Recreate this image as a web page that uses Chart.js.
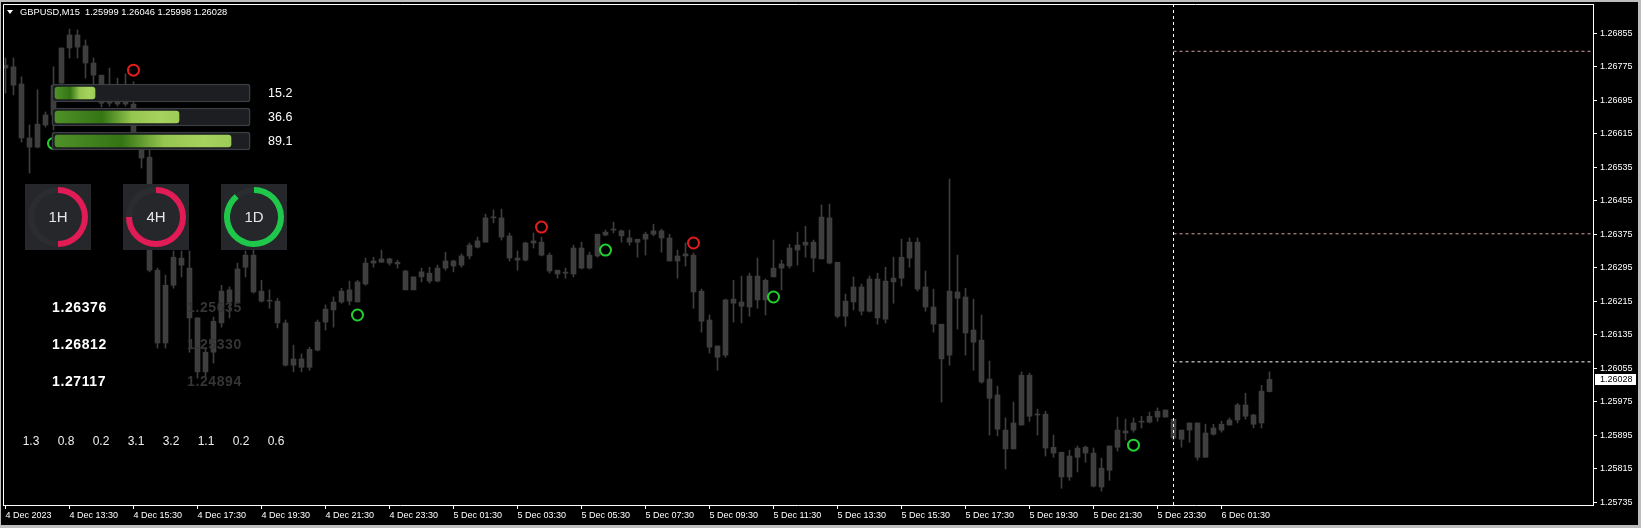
<!DOCTYPE html>
<html>
<head>
<meta charset="utf-8">
<title>GBPUSD,M15</title>
<script src="https://cdn.jsdelivr.net/npm/chart.js@4.4.0/dist/chart.umd.min.js"></script>
<style>
  html, body { margin: 0; padding: 0; background: #000; }
  #wrap { position: relative; width: 1641px; height: 528px; overflow: hidden; background: #000; }
  #main { position: absolute; left: 0; top: 0; }
  .txt { position: absolute; transform: translateY(-50%); white-space: nowrap; line-height: 1;
         font-family: "Liberation Sans", Arial, sans-serif; }
  .head { left: 20px; top: 12.5px; font-size: 9.3px; color: #fff; }
  .tri { position: absolute; left: 7px; top: 10px; width: 0; height: 0;
         border-left: 3.5px solid transparent; border-right: 3.5px solid transparent; border-top: 4px solid #fff; }
  .meterVal { left: 268px; font-size: 12.5px; color: #fff; }
  .gauge { position: absolute; width: 66px; height: 66px; background: #25272b; }
  .gauge canvas { position: absolute; left: 0; top: 0; }
  .gauge span { position: absolute; left: 0; top: 0; width: 66px; height: 66px; line-height: 66px; text-align: center;
                font-family: "Liberation Sans", Arial, sans-serif; font-size: 15px; color: #e6e6e6; }
  .lvl { left: 52px; font-size: 14px; font-weight: bold; color: #fff; letter-spacing: 0.6px; }
  .ghost { left: 187px; font-size: 14px; font-weight: bold; color: #353535; letter-spacing: 0.6px; }
  .small { font-size: 12px; color: #ededed; transform: translate(-50%, -50%); }
  #meter { position: absolute; left: 51px; top: 81px; }
</style>
</head>
<body>
<div id="wrap">
  <canvas id="main" width="1641" height="528"></canvas>
  <canvas id="meter" width="200" height="72"></canvas>
  <div class="tri"></div>
  <div class="txt head">GBPUSD,M15&nbsp; 1.25999 1.26046 1.25998 1.26028</div>
</div>
<script>
// --- price data (M15 bars, 4 Dec 11:30 -> 6 Dec 03:00) ---
const opens = [
  1.26779, 1.26775, 1.26734, 1.26605, 1.26583, 1.26636, 1.26660, 1.26736, 1.26820, 1.26851,
  1.26825, 1.26784, 1.26755, 1.26688, 1.26700, 1.26686, 1.26686, 1.26605, 1.26559, 1.26289,
  1.26115, 1.26253, 1.26318, 1.26294, 1.26175, 1.26046, 1.26093, 1.26163, 1.26242, 1.26213,
  1.26296, 1.26325, 1.26239, 1.26215, 1.26215, 1.26163, 1.26062, 1.26077, 1.26057, 1.26098,
  1.26165, 1.26194, 1.26213, 1.26242, 1.26213, 1.26256, 1.26306, 1.26308, 1.26316, 1.26308,
  1.26287, 1.26242, 1.26273, 1.26282, 1.26263, 1.26294, 1.26311, 1.26301, 1.26323, 1.26344,
  1.26356, 1.26414, 1.26414, 1.26371, 1.26318, 1.26313, 1.26354, 1.26356, 1.26325, 1.26289,
  1.26282, 1.26280, 1.26342, 1.26294, 1.26323, 1.26373, 1.26385, 1.26383, 1.26366, 1.26356,
  1.26363, 1.26375, 1.26383, 1.26366, 1.26311, 1.26323, 1.26325, 1.26239, 1.26170, 1.26108,
  1.26086, 1.26220, 1.26213, 1.26201, 1.26275, 1.26218, 1.26273, 1.26294, 1.26299, 1.26337,
  1.26349, 1.26356, 1.26316, 1.26414, 1.26308, 1.26179, 1.26213, 1.26249, 1.26191, 1.26268,
  1.26172, 1.26261, 1.26270, 1.26318, 1.26356, 1.26249, 1.26201, 1.26160, 1.26086, 1.26237,
  1.26225, 1.26146, 1.26122, 1.26029, 1.25991, 1.25907, 1.25862, 1.25919, 1.26038, 1.25943,
  1.25945, 1.25866, 1.25854, 1.25795, 1.25842, 1.25852, 1.25852, 1.25771, 1.25811, 1.25866,
  1.25905, 1.25907, 1.25926, 1.25926, 1.25938, 1.25938, 1.25933, 1.25885, 1.25907, 1.25924,
  1.25842, 1.25897, 1.25907, 1.25919, 1.25931, 1.25967, 1.25943, 1.25924, 1.25999
];
const highs = [
  1.26796, 1.26796, 1.26751, 1.26636, 1.26720, 1.26667, 1.26775, 1.26820, 1.26865, 1.26863,
  1.26839, 1.26796, 1.26755, 1.26772, 1.26748, 1.26758, 1.26739, 1.26617, 1.26576, 1.26294,
  1.26277, 1.26335, 1.26335, 1.26335, 1.26175, 1.26103, 1.26177, 1.26253, 1.26249, 1.26306,
  1.26335, 1.26337, 1.26265, 1.26242, 1.26222, 1.26170, 1.26110, 1.26089, 1.26105, 1.26170,
  1.26206, 1.26225, 1.26246, 1.26263, 1.26265, 1.26318, 1.26320, 1.26337, 1.26318, 1.26313,
  1.26289, 1.26273, 1.26294, 1.26296, 1.26301, 1.26332, 1.26313, 1.26328, 1.26354, 1.26368,
  1.26423, 1.26433, 1.26435, 1.26378, 1.26335, 1.26356, 1.26378, 1.26368, 1.26330, 1.26289,
  1.26294, 1.26349, 1.26356, 1.26332, 1.26375, 1.26385, 1.26404, 1.26385, 1.26385, 1.26363,
  1.26380, 1.26399, 1.26387, 1.26375, 1.26337, 1.26354, 1.26330, 1.26244, 1.26182, 1.26108,
  1.26220, 1.26265, 1.26275, 1.26282, 1.26318, 1.26268, 1.26361, 1.26313, 1.26351, 1.26380,
  1.26394, 1.26361, 1.26445, 1.26447, 1.26308, 1.26232, 1.26273, 1.26256, 1.26275, 1.26282,
  1.26296, 1.26320, 1.26363, 1.26366, 1.26366, 1.26287, 1.26244, 1.26160, 1.26507, 1.26325,
  1.26246, 1.26220, 1.26182, 1.26072, 1.26012, 1.25936, 1.25974, 1.26046, 1.26043, 1.25957,
  1.25952, 1.25895, 1.25854, 1.25859, 1.25869, 1.25869, 1.25864, 1.25840, 1.25869, 1.25938,
  1.25933, 1.25936, 1.25940, 1.25950, 1.25960, 1.25955, 1.25933, 1.25907, 1.25924, 1.25924,
  1.25921, 1.25921, 1.25928, 1.25936, 1.25971, 1.25995, 1.25945, 1.26014, 1.26046
];
const lows = [
  1.26712, 1.26708, 1.26595, 1.26521, 1.26581, 1.26631, 1.26624, 1.26729, 1.26796, 1.26796,
  1.26748, 1.26731, 1.26679, 1.26681, 1.26681, 1.26681, 1.26600, 1.26533, 1.26285, 1.26103,
  1.26103, 1.26246, 1.26273, 1.26093, 1.26031, 1.26034, 1.26067, 1.26153, 1.26175, 1.26210,
  1.26273, 1.26234, 1.26213, 1.26198, 1.26151, 1.26060, 1.26046, 1.26046, 1.26050, 1.26096,
  1.26146, 1.26153, 1.26210, 1.26206, 1.26213, 1.26253, 1.26296, 1.26308, 1.26301, 1.26294,
  1.26242, 1.26242, 1.26261, 1.26258, 1.26261, 1.26289, 1.26285, 1.26296, 1.26316, 1.26342,
  1.26356, 1.26402, 1.26361, 1.26311, 1.26289, 1.26311, 1.26342, 1.26323, 1.26282, 1.26270,
  1.26270, 1.26273, 1.26292, 1.26292, 1.26320, 1.26371, 1.26378, 1.26356, 1.26349, 1.26320,
  1.26325, 1.26371, 1.26332, 1.26311, 1.26270, 1.26299, 1.26198, 1.26141, 1.26091, 1.26050,
  1.26081, 1.26165, 1.26163, 1.26179, 1.26198, 1.26182, 1.26273, 1.26242, 1.26294, 1.26301,
  1.26320, 1.26285, 1.26316, 1.26304, 1.26175, 1.26155, 1.26194, 1.26182, 1.26189, 1.26160,
  1.26163, 1.26210, 1.26251, 1.26296, 1.26239, 1.26191, 1.26141, 1.25974, 1.26062, 1.26148,
  1.26086, 1.26050, 1.26019, 1.25895, 1.25893, 1.25814, 1.25862, 1.25919, 1.25928, 1.25895,
  1.25845, 1.25842, 1.25768, 1.25787, 1.25807, 1.25830, 1.25771, 1.25761, 1.25787, 1.25857,
  1.25883, 1.25902, 1.25912, 1.25924, 1.25928, 1.25938, 1.25883, 1.25866, 1.25878, 1.25835,
  1.25842, 1.25895, 1.25902, 1.25919, 1.25924, 1.25933, 1.25912, 1.25912, 1.25998
];
const closes = [
  1.26772, 1.26731, 1.26605, 1.26583, 1.26638, 1.26660, 1.26731, 1.26820, 1.26851, 1.26822,
  1.26784, 1.26755, 1.26688, 1.26715, 1.26686, 1.26696, 1.26619, 1.26557, 1.26289, 1.26115,
  1.26253, 1.26320, 1.26301, 1.26175, 1.26046, 1.26093, 1.26167, 1.26239, 1.26213, 1.26292,
  1.26325, 1.26237, 1.26215, 1.26215, 1.26163, 1.26062, 1.26077, 1.26057, 1.26100, 1.26165,
  1.26196, 1.26213, 1.26239, 1.26215, 1.26261, 1.26306, 1.26311, 1.26316, 1.26306, 1.26304,
  1.26242, 1.26273, 1.26285, 1.26263, 1.26294, 1.26311, 1.26299, 1.26323, 1.26349, 1.26359,
  1.26414, 1.26416, 1.26368, 1.26318, 1.26313, 1.26354, 1.26359, 1.26325, 1.26287, 1.26280,
  1.26282, 1.26342, 1.26294, 1.26325, 1.26375, 1.26380, 1.26385, 1.26371, 1.26356, 1.26363,
  1.26375, 1.26383, 1.26366, 1.26311, 1.26323, 1.26328, 1.26237, 1.26167, 1.26105, 1.26081,
  1.26218, 1.26210, 1.26203, 1.26275, 1.26218, 1.26265, 1.26294, 1.26304, 1.26342, 1.26349,
  1.26356, 1.26318, 1.26416, 1.26306, 1.26179, 1.26215, 1.26249, 1.26191, 1.26268, 1.26175,
  1.26263, 1.26270, 1.26320, 1.26356, 1.26244, 1.26201, 1.26160, 1.26077, 1.26239, 1.26222,
  1.26139, 1.26117, 1.26022, 1.25983, 1.25909, 1.25862, 1.25924, 1.26038, 1.25940, 1.25943,
  1.25864, 1.25852, 1.25795, 1.25845, 1.25864, 1.25866, 1.25773, 1.25816, 1.25869, 1.25907,
  1.25900, 1.25924, 1.25928, 1.25940, 1.25952, 1.25955, 1.25888, 1.25907, 1.25924, 1.25842,
  1.25900, 1.25912, 1.25921, 1.25931, 1.25967, 1.25940, 1.25921, 1.26000, 1.26028
];

// time axis labels, one every 8 bars
const timeLabels = [
  '4 Dec 2023', '4 Dec 13:30', '4 Dec 15:30', '4 Dec 17:30', '4 Dec 19:30', '4 Dec 21:30', '4 Dec 23:30',
  '5 Dec 01:30', '5 Dec 03:30', '5 Dec 05:30', '5 Dec 07:30', '5 Dec 09:30', '5 Dec 11:30', '5 Dec 13:30',
  '5 Dec 15:30', '5 Dec 17:30', '5 Dec 19:30', '5 Dec 21:30', '5 Dec 23:30', '6 Dec 01:30'
];
const priceTicks = [1.25735, 1.25815, 1.25895, 1.25975, 1.26055, 1.26135, 1.26215, 1.26295,
                    1.26375, 1.26455, 1.26535, 1.26615, 1.26695, 1.26775, 1.26855];

// signals and levels
const redSignalBars = [16, 67, 86];
const redSignalPrices = [1.26767, 1.26392, 1.26354];
const greenSignalBars = [6, 44, 75, 96, 141];
const greenSignalPrices = [1.26592, 1.26182, 1.26337, 1.26225, 1.25871];
const levelPrices = [1.26812, 1.26376, 1.26070];
const levelColors = ['#d6a3a3', '#d6a3a3', '#ffffff'];
const dividerBar = 146;

// panel contents
const strengthLabels = ['15.2', '36.6', '89.1'];
const strengthFill = [22, 64, 90];
const gaugeNames = ['1H', '4H', '1D'];
const gaugeValues = [50, 75, 89];
const gaugeColors = ['#e11b55', '#e11b55', '#1fc84b'];
const levelTexts = ['1.26376', '1.26812', '1.27117'];
const ghostTexts = ['1.25635', '1.25330', '1.24894'];
const bottomValues = ['1.3', '0.8', '0.2', '3.1', '3.2', '1.1', '0.2', '0.6'];

const FONT = '"Liberation Sans", Arial, sans-serif';
const candleColor = '#3e3e3e';
const xMin = -0.3125, xMax = 198.4375;
const yMin = 1.25728, yMax = 1.26925;

const wickData = highs.map((h, i) => ({ x: i, y: [lows[i], h] }));
const bodyData = opens.map((o, i) => ({ x: i, y: [o, closes[i]] }));

const levelSets = levelPrices.map((p, k) => ({
    type: 'line',
    data: [{ x: dividerBar, y: p }, { x: xMax, y: p }],
    borderColor: levelColors[k],
    borderWidth: 1,
    borderDash: [3, 3],
    pointRadius: 0,
    order: 1
}));

// keep the plot area where the terminal puts it
function noScalePadding(s) {
    s.paddingLeft = 0;
    s.paddingRight = 0;
    s.paddingTop = 0;
    s.paddingBottom = 0;
}

const chartFrame = {
    id: 'chartFrame',
    beforeDraw(chart) {
        const c = chart.ctx;
        c.save();
        c.fillStyle = '#000';
        c.fillRect(0, 0, chart.width, chart.height);
        c.restore();
    },
    afterDraw(chart) {
        const c = chart.ctx;
        const a = chart.chartArea;
        c.save();
        c.strokeStyle = '#fff';
        c.lineWidth = 1;
        c.beginPath();
        c.moveTo(a.left + 0.5, a.bottom);
        c.lineTo(a.left + 0.5, a.top + 0.5);
        c.lineTo(a.right, a.top + 0.5);
        c.stroke();

        // last price tag on the price axis
        const last = closes[closes.length - 1];
        const py = Math.round(chart.scales.y.getPixelForValue(last));
        c.fillStyle = '#fff';
        c.fillRect(a.right + 2, py - 5, 41, 11);
        c.fillStyle = '#000';
        c.font = '9px ' + FONT;
        c.textBaseline = 'middle';
        c.fillText(last.toFixed(5), a.right + 7, py + 0.5);

        // window edge
        c.fillStyle = '#bdbdbd';
        c.fillRect(0, 0, chart.width, 2);
        c.fillRect(0, 0, 1, chart.height);
        c.fillRect(chart.width - 3, 0, 3, chart.height);
        c.fillRect(0, chart.height - 3, chart.width, 3);
        c.restore();
    }
};

new Chart(document.getElementById('main'), {
    type: 'bar',
    data: {
        datasets: [
            {
                type: 'line', showLine: false, order: 0,
                data: redSignalBars.map((b, k) => ({ x: b, y: redSignalPrices[k] })),
                pointRadius: 5.5, pointBorderWidth: 2,
                pointBorderColor: '#e41c1c', pointBackgroundColor: 'rgba(0,0,0,0)'
            },
            {
                type: 'line', showLine: false, order: 0,
                data: greenSignalBars.map((b, k) => ({ x: b, y: greenSignalPrices[k] })),
                pointRadius: 5.5, pointBorderWidth: 2,
                pointBorderColor: '#22d030', pointBackgroundColor: 'rgba(0,0,0,0)'
            },
            {
                type: 'line', order: 1,
                data: [{ x: dividerBar, y: yMax }, { x: dividerBar, y: yMin }],
                borderColor: '#fff', borderWidth: 1, borderDash: [3, 3], pointRadius: 0
            },
            ...levelSets,
            {
                data: bodyData, order: 2, grouped: false,
                backgroundColor: candleColor, barThickness: 5, minBarLength: 1, borderWidth: 0
            },
            {
                data: wickData, order: 3, grouped: false,
                backgroundColor: candleColor, barThickness: 1, borderWidth: 0
            }
        ]
    },
    options: {
        responsive: false,
        animation: false,
        devicePixelRatio: 1,
        events: [],
        layout: { autoPadding: false, padding: { left: 3, top: 4, right: 0, bottom: 0 } },
        plugins: { legend: { display: false }, tooltip: { enabled: false } },
        scales: {
            x: {
                type: 'linear', min: xMin, max: xMax, offset: false,
                grid: { offset: false, drawOnChartArea: false, drawTicks: true, tickLength: 4, color: '#fff' },
                border: { display: true, color: '#fff' },
                ticks: {
                    color: '#fff', font: { family: FONT, size: 9 }, align: 'start', padding: 1,
                    maxRotation: 0, autoSkip: false,
                    callback: (v) => timeLabels[v / 8] ?? null
                },
                afterBuildTicks: (s) => { s.ticks = timeLabels.map((_, k) => ({ value: k * 8 })); },
                afterFit: (s) => { s.height = 23; noScalePadding(s); }
            },
            y: {
                position: 'right', min: yMin, max: yMax, offset: false, beginAtZero: false,
                grid: { drawOnChartArea: false, tickLength: 4, color: '#fff' },
                border: { display: true, color: '#fff' },
                ticks: {
                    color: '#fff', font: { family: FONT, size: 9 }, padding: 3, autoSkip: false,
                    callback: (v) => v.toFixed(5)
                },
                afterBuildTicks: (s) => { s.ticks = priceTicks.map(v => ({ value: v })); },
                afterFit: (s) => { s.width = 48; noScalePadding(s); }
            }
        }
    },
    plugins: [chartFrame]
});

// --- strength meters ---
function meterGradient(context) {
    const chart = context.chart;
    const xs = chart.scales.x;
    if (!chart.chartArea || !xs) return '#6aa832';
    const x0 = xs.getPixelForValue(2);
    const x1 = xs.getPixelForValue(strengthFill[context.dataIndex]);
    const g = chart.ctx.createLinearGradient(x0, 0, x1, 0);
    g.addColorStop(0, '#4f9128');
    g.addColorStop(0.38, '#347514');
    g.addColorStop(0.62, '#95c64f');
    g.addColorStop(0.85, '#a6d25e');
    g.addColorStop(1, '#9dcb57');
    return g;
}

new Chart(document.getElementById('meter'), {
    type: 'bar',
    data: {
        labels: strengthLabels,
        datasets: [
            {
                data: strengthFill.map(f => [2, f]), order: 0, grouped: false,
                barThickness: 12, borderRadius: 3, borderSkipped: false,
                backgroundColor: meterGradient
            },
            {
                data: strengthLabels.map(() => [0.4, 99.6]), order: 1, grouped: false,
                barThickness: 18, borderRadius: 3, borderSkipped: false,
                backgroundColor: '#1c1e21', borderColor: '#3b3e43', borderWidth: 1.5
            }
        ]
    },
    options: {
        indexAxis: 'y', responsive: false, animation: false, devicePixelRatio: 1, events: [],
        layout: { padding: 0 },
        plugins: { legend: { display: false }, tooltip: { enabled: false } },
        scales: { x: { display: false, min: 0, max: 100 }, y: { display: false } }
    }
});

const wrap = document.getElementById('wrap');
function addText(cls, text, left, top) {
    const d = document.createElement('div');
    d.className = 'txt ' + cls;
    d.textContent = text;
    if (left !== null) d.style.left = left + 'px';
    d.style.top = top + 'px';
    wrap.appendChild(d);
}

const meterRows = [92.5, 117, 140.5];
strengthLabels.forEach((t, k) => addText('meterVal', t, null, meterRows[k]));

// --- timeframe gauges ---
const gaugeLeft = [25, 123, 221];
gaugeNames.forEach((name, k) => {
    const box = document.createElement('div');
    box.className = 'gauge';
    box.style.left = gaugeLeft[k] + 'px';
    box.style.top = '184px';
    const cv = document.createElement('canvas');
    cv.width = 66; cv.height = 66;
    box.appendChild(cv);
    const lab = document.createElement('span');
    lab.textContent = name;
    box.appendChild(lab);
    wrap.appendChild(box);
    new Chart(cv, {
        type: 'doughnut',
        data: {
            datasets: [{
                data: [gaugeValues[k], 100 - gaugeValues[k]],
                backgroundColor: [gaugeColors[k], '#2a2c30'],
                borderWidth: 0
            }]
        },
        options: {
            responsive: false, animation: false, devicePixelRatio: 1, events: [],
            cutout: '80%',
            layout: { padding: 3 },
            plugins: { legend: { display: false }, tooltip: { enabled: false } }
        }
    });
});

// --- level readouts ---
const levelRows = [306.7, 344, 381];
levelTexts.forEach((t, k) => addText('lvl', t, null, levelRows[k]));
ghostTexts.forEach((t, k) => addText('ghost', t, null, levelRows[k]));

const bottomX = [31, 66, 101, 136, 171, 206, 241, 276];
bottomValues.forEach((t, k) => addText('small', t, bottomX[k], 441));
</script>
</body>
</html>
